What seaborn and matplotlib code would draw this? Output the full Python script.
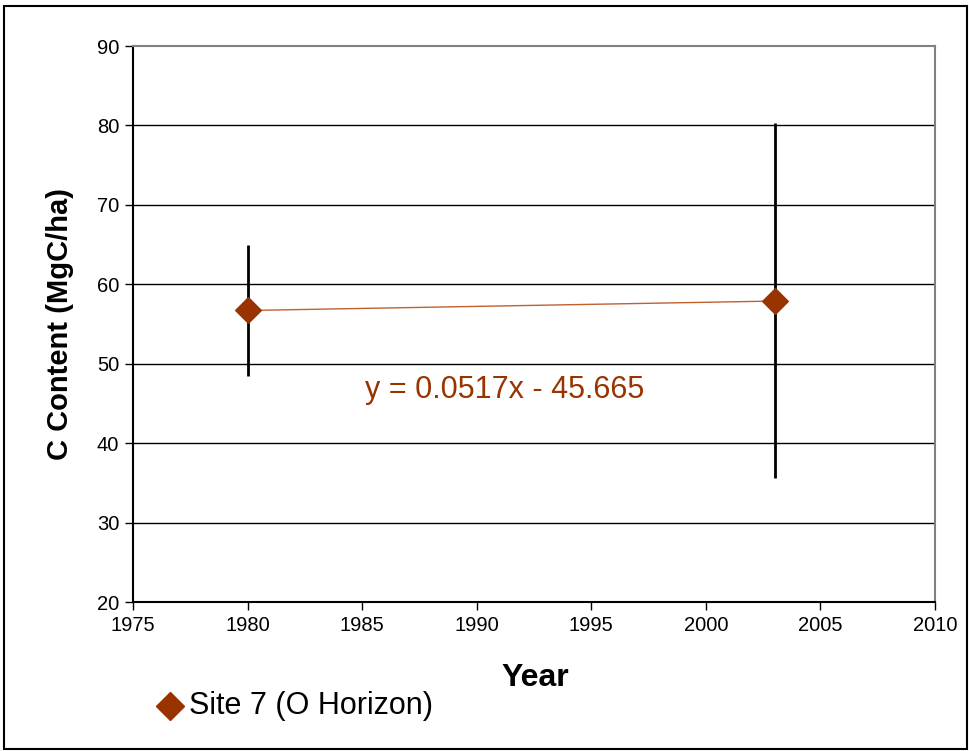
import matplotlib
matplotlib.use("Agg")
import matplotlib.pyplot as plt
import seaborn as sns
import pandas as pd
from matplotlib.patches import Rectangle
from matplotlib.lines import Line2D

years = [1980, 2003]
carbon = [56.8, 57.9]
err_low = [8.3, 22.3]
err_high = [8.1, 22.4]
slope = 0.0517
intercept = -45.665
series_name = "Site 7 (O Horizon)"
x_ticks = [1975, 1980, 1985, 1990, 1995, 2000, 2005, 2010]
y_ticks = [20, 30, 40, 50, 60, 70, 80, 90]

sns.set_theme(style="white")
plt.rcParams['font.family'] = ['Liberation Sans', 'DejaVu Sans']
plt.rcParams['text.color'] = 'black'
plt.rcParams['xtick.color'] = 'black'
plt.rcParams['ytick.color'] = 'black'

df = pd.DataFrame({"Year": years, "C": carbon})
trend = pd.DataFrame({"Year": years, "C": [slope * y + intercept for y in years]})

fig = plt.figure(figsize=(9.69, 7.51), dpi=100)
ax = fig.add_axes([133/969, 1-602/751, (935-133)/969, (602-46)/751])

for y in y_ticks[1:-1]:
    ax.axhline(y, color="black", lw=1, zorder=0)

ax.errorbar(years, carbon, yerr=[err_low, err_high], fmt="none",
            ecolor="black", elinewidth=2, capsize=0, zorder=2)
sns.lineplot(data=trend, x="Year", y="C", color="#C0602E", lw=1, ax=ax, zorder=3)
sns.scatterplot(data=df, x="Year", y="C", marker="D", s=170, color="#993300",
                edgecolor="#993300", ax=ax, zorder=4)

ax.set_xlim(1975, 2010)
ax.set_ylim(20, 90)
ax.set_xticks(x_ticks)
ax.set_yticks(y_ticks)
ax.tick_params(axis="both", labelsize=14.5, length=6, width=1, color="black",
               labelcolor="black", direction="out", bottom=True, left=True, pad=4)
for s in ax.spines.values():
    s.set_color("#808080")
    s.set_linewidth(1.5)
ax.spines["bottom"].set_color("black")
ax.spines["left"].set_color("black")

ax.set_xlabel("")
ax.set_ylabel("")
fig.text(535/969, 1-678/751, "Year", ha="center", va="center",
         fontsize=23, fontweight="bold", color="black")
fig.text(60/969, 1-324/751, "C Content (MgC/ha)", ha="center", va="center",
         rotation=90, fontsize=21, fontweight="bold", color="black")

ax.text(1991.2, 46.7, f"y = {slope}x - {abs(intercept)}", ha="center", va="center",
        fontsize=22, color="#993300")

# legend
fig.add_artist(Line2D([170/969], [1-706/751], marker="D", markersize=14,
                      color="#993300", linestyle="none",
                      transform=fig.transFigure))
fig.text(189/969, 1-706/751, series_name, ha="left", va="center", fontsize=22,
         color="black")

fig.patches.append(Rectangle((4/969, 0.002), 1-4/969-0.002, 1-6/751-0.002,
                             transform=fig.transFigure, fill=False,
                             edgecolor="black", lw=1.5))

fig.savefig("out.png", dpi=100)
